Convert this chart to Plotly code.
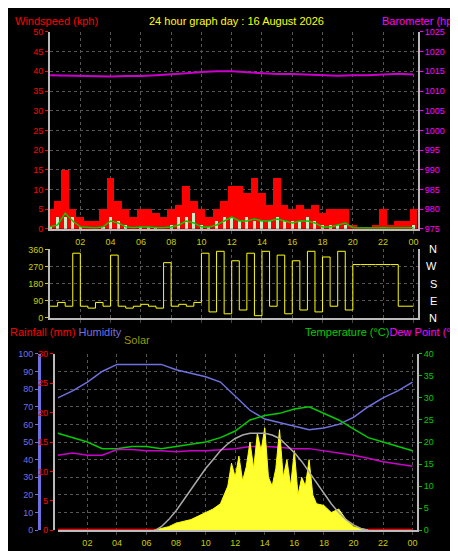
import plotly.graph_objects as go

# half-hour time points for wind/direction/solar, hourly for the others
t_half = [i / 2 for i in range(49)]
t_hour = list(range(25))
tick_vals = [2, 4, 6, 8, 10, 12, 14, 16, 18, 20, 22, 24]
tick_text = ["02", "04", "06", "08", "10", "12", "14", "16", "18", "20", "22", "00"]

wind_gust = [5, 7, 15, 5, 3, 2, 2, 5, 13, 7, 5, 3, 5, 5, 4, 3, 5, 6, 11, 7, 5, 3, 5, 7, 11,
             11, 9, 13, 9, 6, 13, 6, 5, 6, 5, 6, 4, 5, 5, 5, 1, 0.5, 0.5, 1, 5, 1, 2, 2, 5]
wind_light = [0.5, 3, 3, 3, 0.3, 0, 0, 0.5, 3, 2, 1, 0, 0.5, 0.5, 0.3, 0, 1, 3, 3, 4, 1, 0.5, 2, 3, 3,
              2, 3, 2, 2, 2, 3, 2, 2, 2, 3, 2, 1, 1, 1, 1, 0, 0, 0, 0, 0, 0, 0, 0, 1]
wind_avg = [0.5, 1, 4, 2, 0.5, 0.3, 0.2, 0.5, 2, 1.5, 0.5, 0.3, 0.5, 0.5, 0.3, 0.3, 0.5, 1, 2, 1.5, 0.5, 0.5, 1, 2, 3,
            2, 2, 2.5, 2, 2, 2.5, 2, 1.5, 2, 2, 1.5, 0.5, 0.5, 1, 1.5, 0.3, 0.2, 0.2, 0.2, 0.3, 0.2, 0.2, 0.2, 0.3]
baro = [1014, 1013.9, 1013.8, 1013.7, 1013.7, 1013.8, 1013.8, 1014, 1014.2, 1014.5, 1014.8, 1015,
        1015, 1014.8, 1014.6, 1014.3, 1014.3, 1014.2, 1014, 1013.9, 1014, 1014, 1014.2, 1014.4, 1014.2]
wind_dir = [60, 80, 60, 340, 60, 50, 80, 60, 330, 60, 50, 60, 70, 60, 50, 290, 60, 70, 60, 80, 340,
            30, 350, 20, 300, 40, 340, 10, 350, 60, 330, 20, 300, 40, 350, 30, 320, 60, 350, 40,
            280, 280, 280, 280, 280, 280, 60, 60, 60]

humidity = [75, 79, 84, 90, 94, 94, 94, 94, 91, 89, 87, 84, 76, 68, 63, 61, 59, 57, 58, 60, 64, 70, 75, 79, 84]
temperature = [22, 21, 20, 18.5, 18.5, 19, 19, 18.5, 19, 19.5, 20, 21, 22.5, 25, 26, 26.5, 27.5, 28,
               26.5, 25, 23, 21, 20, 19, 18]
dew_point = [17, 17.5, 17, 17, 18.3, 18.3, 18, 18, 17.8, 18, 18, 18.3, 18.5, 19, 19, 18.8, 18.5,
             18.5, 18, 17.5, 17, 16.3, 15.5, 15, 14.5]
rainfall = [0] * 25
solar_t = [6.5, 7, 7.5, 8, 8.5, 9, 9.5, 10, 10.5, 11, 11.5, 11.75, 12, 12.25, 12.5, 12.75, 13, 13.25, 13.5,
           13.75, 14, 14.25, 14.5, 14.75, 15, 15.25, 15.5, 15.75, 16, 16.25, 16.5, 16.75, 17, 17.25, 17.5,
           18, 18.5, 19, 19.5, 20, 20.5, 21]
solar = [0, 1, 2, 4, 5, 6, 8, 10, 12, 15, 25, 38, 30, 42, 28, 36, 50, 35, 55, 45, 58, 30, 25, 35, 57,
         30, 40, 25, 45, 20, 30, 25, 40, 20, 15, 14, 10, 12, 6, 2, 1, 0]
sun_t = [6.6, 7, 7.5, 8, 8.5, 9, 9.5, 10, 10.5, 11, 11.5, 12, 12.5, 13, 13.5, 14, 14.5, 15,
         15.5, 16, 16.5, 17, 17.5, 18, 18.5, 19, 19.5, 20, 20.5, 21]
sun_max = [0, 2, 6, 11, 17, 23, 29, 35, 40, 45, 49, 52, 54, 55, 55, 55, 54, 52, 48, 44, 39, 33, 27,
           21, 15, 10, 6, 3, 1, 0]

fig = go.Figure()
fig.add_trace(go.Bar(x=t_half, y=wind_gust, width=0.5, marker=dict(color="#ff0000", line_width=0)))
fig.add_trace(go.Bar(x=t_half, y=wind_light, width=0.2, marker=dict(color="#c8ecc8", line_width=0)))
fig.add_trace(go.Scatter(x=t_half, y=wind_avg, mode="lines", line=dict(color="#00cc00", width=1.5)))
fig.add_trace(go.Scatter(x=t_hour, y=baro, mode="lines", yaxis="y2", line=dict(color="#cc00cc", width=2)))
fig.add_trace(go.Scatter(x=t_half, y=wind_dir, mode="lines", xaxis="x2", yaxis="y3",
                         line=dict(color="#ffff00", width=1, shape="hv")))
fig.add_trace(go.Scatter(x=solar_t, y=solar, mode="lines", xaxis="x3", yaxis="y7", fill="tozeroy",
                         fillcolor="#ffff30", line=dict(color="#ffff00", width=1)))
fig.add_trace(go.Scatter(x=sun_t, y=sun_max, mode="lines", xaxis="x3", yaxis="y7",
                         line=dict(color="#aaaaaa", width=1.5)))
fig.add_trace(go.Scatter(x=t_hour, y=rainfall, mode="lines", xaxis="x3", yaxis="y5",
                         line=dict(color="#ff0000", width=3)))
fig.add_trace(go.Scatter(x=t_hour, y=humidity, mode="lines", xaxis="x3", yaxis="y4",
                         line=dict(color="#7070e0", width=1.5)))
fig.add_trace(go.Scatter(x=t_hour, y=temperature, mode="lines", xaxis="x3", yaxis="y6",
                         line=dict(color="#00cc00", width=1.5)))
fig.add_trace(go.Scatter(x=t_hour, y=dew_point, mode="lines", xaxis="x3", yaxis="y6",
                         line=dict(color="#cc00cc", width=1.5)))

grid = dict(showgrid=True, gridcolor="#555555", griddash="dot", zeroline=False, ticks="outside", ticklen=3)
xcommon = dict(range=[0, 24.3], tickvals=tick_vals, ticktext=tick_text, tickfont=dict(color="#cccc00", size=9),
               showline=True, linecolor="#bbbbbb", linewidth=2, **grid)
fig.update_layout(
    width=458, height=551, margin=dict(l=0, r=0, t=0, b=0),
    paper_bgcolor="black", plot_bgcolor="black", showlegend=False, barmode="overlay", bargap=0,
    font=dict(family="Liberation Sans", size=9),
    xaxis=dict(domain=[0.092, 0.897], anchor="y", **xcommon),
    yaxis=dict(domain=[0.601, 0.965], range=[0, 50], dtick=5, tickfont=dict(color="#ff0000"),
               showline=True, linecolor="#bbbbbb", linewidth=2, tickcolor="#ff0000", **grid),
    yaxis2=dict(overlaying="y", side="right", range=[975, 1025], dtick=5, tickfont=dict(color="#ff00ff"),
                showgrid=False, showline=True, linecolor="#bbbbbb", linewidth=2, ticks="outside",
                tickcolor="#ff00ff", ticklen=3),
    xaxis2=dict(domain=[0.092, 0.897], anchor="y3", showticklabels=False, **{k: v for k, v in xcommon.items()
                                                                             if k != "tickfont"}),
    yaxis3=dict(domain=[0.437, 0.563], range=[0, 360], tickvals=[0, 90, 180, 270, 360],
                tickfont=dict(color="#cccc00"), showline=True, linecolor="#bbbbbb", linewidth=2,
                tickcolor="#cccc00", mirror=True, **grid),
    xaxis3=dict(domain=[0.109, 0.895], anchor="y4", **xcommon),
    yaxis4=dict(domain=[0.044, 0.37], range=[0, 100], dtick=10, anchor="free", position=0.068,
                tickfont=dict(color="#7070e0"), showline=True, linecolor="#7070e0", linewidth=3,
                tickcolor="#7070e0", **grid),
    yaxis5=dict(overlaying="y4", range=[0, 30], dtick=5, anchor="free", position=0.1,
                tickfont=dict(color="#ff0000"), showline=True, linecolor="#bbbbbb", linewidth=2,
                showgrid=False, ticks="outside", tickcolor="#ff0000", ticklen=3),
    yaxis6=dict(overlaying="y4", side="right", anchor="x3", range=[0, 40], dtick=5,
                tickfont=dict(color="#00cc00"), showline=True, linecolor="#bbbbbb", linewidth=2,
                showgrid=False, ticks="outside", tickcolor="#00cc00", ticklen=3),
    yaxis7=dict(overlaying="y4", range=[0, 100], visible=False),
)

ann = [
    (0.01, 1.0, "Windspeed (kph)", "left"),
    (0.5, 1.0, "<span style='color:#ffff00'>24 hour graph day : 16 August 2026</span>", "center"),
    (0.997, 1.0, "<span style='color:#ff00ff'>Barometer (hpa)</span>", "right"),
    (0.0, 0.425, "Rainfall (mm) <span style='color:#7070e0'>Humidity</span>", "left"),
    (0.25, 0.41, "<span style='color:#999900'>Solar</span>", "left"),
    (0.997, 0.425, "<span style='color:#00cc00'>Temperature (°C)</span><span style='color:#ff00ff'>Dew Point (°C)</span>",
     "right"),
]
for x, y, txt, al in ann:
    fig.add_annotation(x=x, y=y, xref="paper", yref="paper", text=txt, showarrow=False, xanchor=al,
                       yanchor="top", font=dict(color="#ff0000", size=11))
for i, lab in enumerate(["N", "W", "S", "E", "N"]):
    fig.add_annotation(x=0.943, y=0.563 - i * 0.0315, xref="paper", yref="paper", text=lab, showarrow=False,
                       font=dict(color="#ffffff", size=11))

fig.write_html("out.html")
